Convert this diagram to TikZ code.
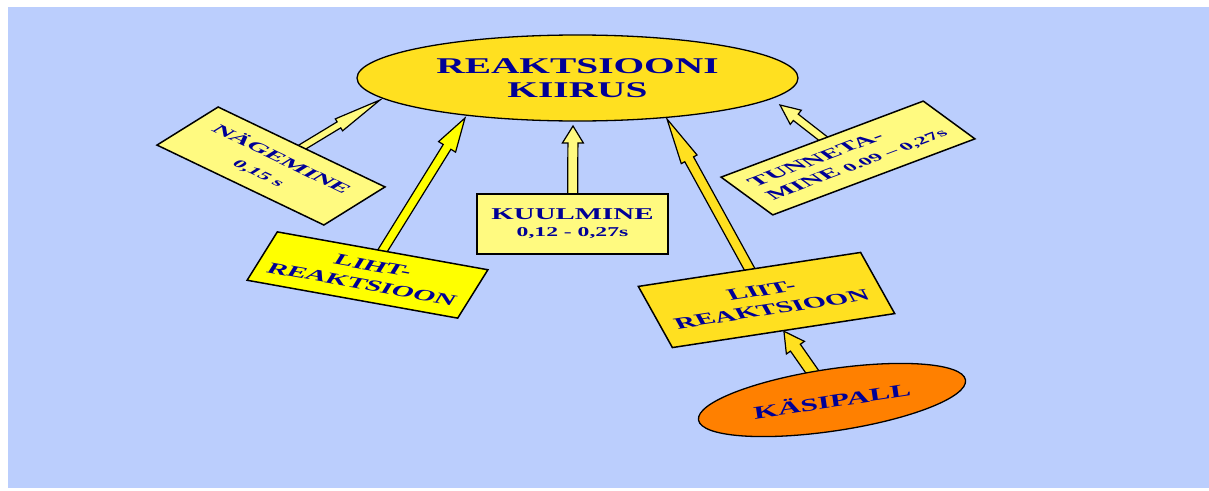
\documentclass[tikz,border=0pt]{standalone}
\usepackage{fontspec}
\newfontfamily\wf{Liberation Serif}[FakeStretch=1.75]
\usetikzlibrary{shapes.geometric,calc}
\definecolor{bgblue}{RGB}{187,206,253}
\definecolor{navy}{RGB}{0,0,150}
\definecolor{gold}{RGB}{255,224,32}
\definecolor{pale}{RGB}{255,250,128}
\definecolor{lemon}{RGB}{255,255,0}
\definecolor{orng}{RGB}{255,128,0}
\pgfdeclarelayer{bg}
\pgfdeclarelayer{arr}
\pgfsetlayers{bg,arr,main}
% #1 fill, #2 start, #3 tip, #4 shaft half width, #5 head half width, #6 head length
\newcommand\blockarrow[6]{%
  \coordinate (neck) at ($(#3)!#6!(#2)$);
  \draw[arrowshape, fill=#1]
    ($(#2)!#4!90:(#3)$) -- ($(neck)!#4!-90:(#2)$) -- ($(neck)!#5!-90:(#2)$) -- (#3)
    -- ($(neck)!#5!90:(#2)$) -- ($(neck)!#4!90:(#2)$) -- ($(#2)!#4!-90:(#3)$) -- cycle;}
\begin{document}
\begin{tikzpicture}[x=1pt,y=-1pt,
  lbl/.style={font=\wf\bfseries, text=navy, align=center, inner sep=0pt},
  boxed/.style={draw=black, line width=1.5pt, lbl},
  arrowshape/.style={draw=black, line width=1.2pt, line join=miter}]
\useasboundingbox (0,0) rectangle (1209,490);
\begin{pgfonlayer}{bg}
  \fill[bgblue] (8,7) rectangle (1209,488);
\end{pgfonlayer}

\node[ellipse, draw=black, line width=1.3pt, fill=gold, lbl,
      minimum width=441pt, minimum height=86pt,
      font=\wf\bfseries\fontsize{22.5}{24}\selectfont] (top) at (577.5,78) {REAKTSIOONI\\KIIRUS};

\node[boxed, fill=pale, cm={0.902,-0.432,1.002,0.624,(271,166)}, transform shape,
      minimum width=185pt, minimum height=61pt,
      font=\wf\bfseries\fontsize{15}{22}\selectfont] (nag) at (0,0)
      {NÄGEMINE\\{\fontsize{12.5}{14}\selectfont 0,15 s}};

\node[boxed, fill=lemon, cm={0.984,-0.177,0.572,0.916,(367.5,275)}, transform shape,
      minimum width=214pt, minimum height=52.8pt,
      font=\wf\bfseries\fontsize{16}{20}\selectfont] (liht) at (0,0)
      {LIHT-\\REAKTSIOON};

\node[boxed, fill=pale, minimum width=191pt, minimum height=60pt,
      font=\wf\bfseries\fontsize{16.5}{17}\selectfont] (kuul) at (572.5,224)
      {KUULMINE\\{\fontsize{13.5}{15}\selectfont 0,12 - 0,27s}};

\node[boxed, fill=gold, cm={0.988,0.151,-0.521,0.935,(766.5,300)}, transform shape,
      minimum width=225pt, minimum height=65.4pt,
      font=\wf\bfseries\fontsize{16.5}{20}\selectfont] (liit) at (0,0)
      {LIIT-\\REAKTSIOON};

\node[boxed, fill=pale, align=left, cm={0.936,0.352,-0.960,0.702,(848,158)}, transform shape,
      minimum width=216pt, minimum height=53.8pt,
      font=\wf\bfseries\fontsize{15.5}{19}\selectfont] (tun) at (0,0)
      {TUNNETA-\\MINE {\fontsize{12.5}{14}\selectfont 0.09 – 0,27s}};

\node[ellipse, draw=black, line width=1.3pt, fill=orng, lbl, rotate=8.5,
      minimum width=270pt, minimum height=62pt,
      font=\wf\bfseries\fontsize{18}{20}\selectfont] (kasi) at (832,400) {KÄSIPALL};

\coordinate (t1) at (380,100);
\coordinate (t2) at (465,118);
\coordinate (t3) at (573,126);
\coordinate (t4) at (667,119);
\coordinate (t5) at (780,105);

\begin{pgfonlayer}{arr}
  \blockarrow{pale}{nag}{t1}{3.5pt}{7pt}{48pt}
  \blockarrow{lemon}{liht}{t2}{4.5pt}{10pt}{34pt}
  \blockarrow{pale}{kuul}{t3}{5pt}{10.5pt}{17pt}
  \blockarrow{gold}{liit}{t4}{5pt}{9pt}{46pt}
  \blockarrow{pale}{tun}{t5}{4pt}{9pt}{20pt}
  \blockarrow{gold}{kasi}{liit.south}{6pt}{11pt}{20pt}
\end{pgfonlayer}
\end{tikzpicture}
\end{document}
